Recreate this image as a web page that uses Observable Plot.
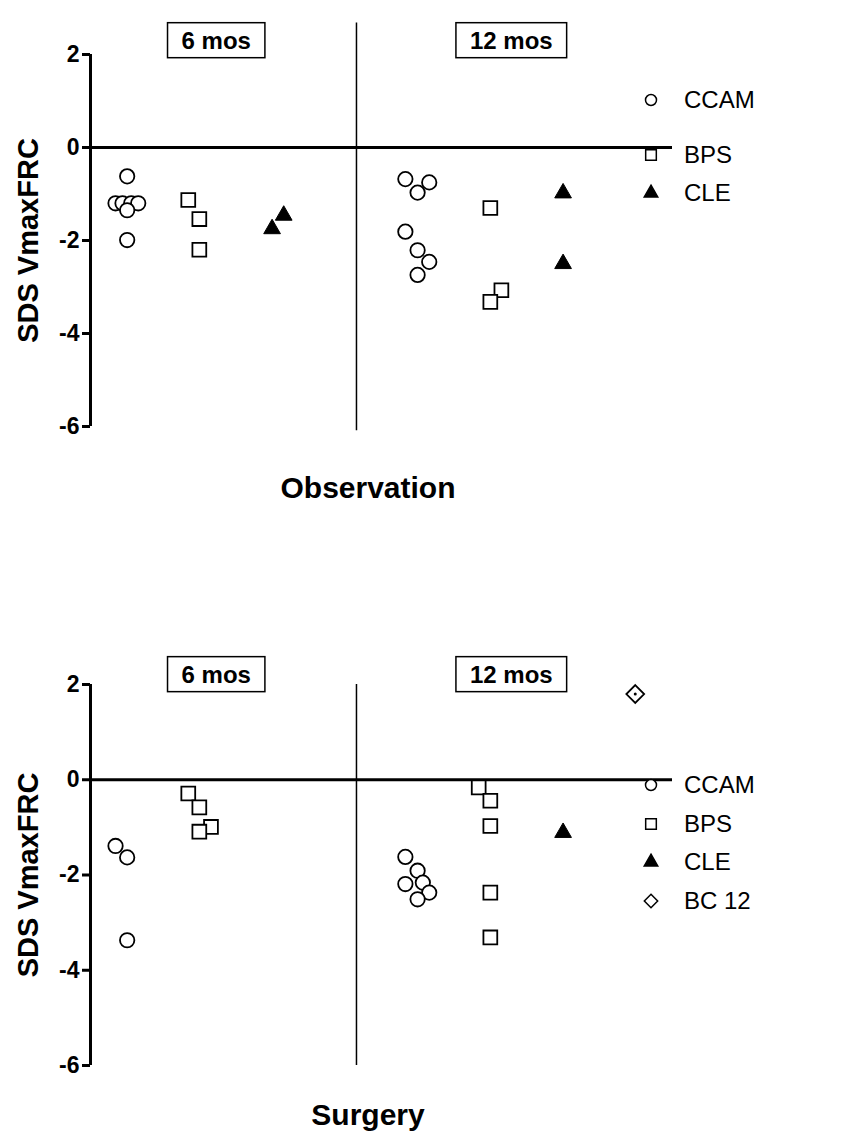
<!DOCTYPE html>
<html><head><meta charset="utf-8">
<script src="https://cdn.jsdelivr.net/npm/d3@7"></script>
<script src="https://cdn.jsdelivr.net/npm/@observablehq/plot@0.6"></script>
<style>
body{margin:0;background:#fff;font-family:"Liberation Sans",Arial,sans-serif;color:#000;}
#wrap{position:relative;width:866px;height:1138px;overflow:hidden;}
.panel{position:absolute;left:0;}
.ptitle{position:absolute;left:218px;width:300px;text-align:center;font-weight:bold;font-size:30px;line-height:34px;}
.legend{position:absolute;left:638px;font-size:24px;}
.legend div{position:absolute;left:0;display:flex;align-items:center;height:38px;white-space:nowrap;}
.legend svg{width:26px;height:26px;margin-right:20px;overflow:visible;}
</style></head>
<body><div id="wrap"></div>
<script>
// ---- data (x = column position, y = SDS VmaxFRC) ----
const series = ["CCAM", "BPS", "CLE", "BC 12"];
const yTicks = [-6, -4, -2, 0, 2];
const periodLabels = ["6 mos", "12 mos"];
const periodLabelX = [2.16, 7.23];

// Observation panel
const obsCCAM_x = [0.63, 0.43, 0.55, 0.70, 0.82, 0.63, 0.63, 5.41, 5.82, 5.62, 5.41, 5.62, 5.82, 5.62];
const obsCCAM_y = [-0.62, -1.20, -1.20, -1.20, -1.20, -1.35, -1.99, -0.68, -0.75, -0.97, -1.81, -2.21, -2.46, -2.74];
const obsBPS_x = [1.68, 1.87, 1.87, 6.87, 7.06, 6.87];
const obsBPS_y = [-1.13, -1.54, -2.20, -1.30, -3.07, -3.32];
const obsCLE_x = [3.32, 3.12, 8.12, 8.12];
const obsCLE_y = [-1.46, -1.75, -0.98, -2.50];

// Surgery panel
const surCCAM_x = [0.43, 0.63, 0.63, 5.41, 5.62, 5.41, 5.71, 5.82, 5.62];
const surCCAM_y = [-1.39, -1.63, -3.37, -1.62, -1.91, -2.19, -2.16, -2.37, -2.51];
const surBPS_x = [1.68, 1.87, 2.07, 1.87, 6.67, 6.87, 6.87, 6.87, 6.87];
const surBPS_y = [-0.29, -0.58, -0.99, -1.09, -0.16, -0.44, -0.97, -2.37, -3.31];
const surCLE_x = [8.12];
const surCLE_y = [-1.11];
const surBC_x = [9.36];
const surBC_y = [1.80];

const symbols = {"CCAM": "circle", "BPS": "square", "CLE": "triangle", "BC 12": "diamond2"};
const sizes = {"CCAM": 7.2, "BPS": 7.8, "CLE": 6.2, "BC 12": 8};

function pts(name, xs, ys) { return xs.map((x, i) => ({series: name, x, y: ys[i]})); }

function panel(data, opts) {
  const marks = [
    Plot.ruleY([0], {x1: 0, x2: 10, strokeWidth: 3}),
    Plot.ruleX([0], {y1: -6, y2: 2, strokeWidth: 3}),
    Plot.ruleX([opts.divX], {y1: opts.divBottom, y2: opts.divTop, strokeWidth: 1.5}),
    Plot.axisY({ticks: yTicks, tickSize: 8, strokeWidth: 3, tickPadding: 3, tickFormat: d => String(d), label: null, fontSize: 23, fontWeight: "bold"}),
    Plot.text(["SDS VmaxFRC"], {frameAnchor: "left", textAnchor: "middle", rotate: -90, dx: -62, fontSize: 29, fontWeight: "bold"}),
    Plot.text(periodLabels, {x: (d, i) => periodLabelX[i], y: opts.labelY, fontSize: 24, fontWeight: "bold", className: "plabel"})
  ];
  for (const s of series) {
    const d = data.filter(p => p.series === s);
    if (!d.length) continue;
    if (s === "CLE") {
      marks.push(Plot.dot(d, {x: "x", y: "y", symbol: symbols[s], r: sizes[s], fill: "black", stroke: "black", strokeWidth: 1}));
    } else {
      marks.push(Plot.dot(d, {x: "x", y: "y", symbol: symbols[s], r: sizes[s], fill: "white", stroke: "black", strokeWidth: 1.8}));
    }
    if (s === "BC 12") marks.push(Plot.dot(d, {x: "x", y: "y", r: 1.5, fill: "black"}));
  }
  return Plot.plot({
    width: 680, height: opts.height,
    marginLeft: 90, marginRight: 8, marginTop: 54, marginBottom: opts.height - opts.bottomPx,
    x: {domain: [0, 10], axis: null},
    y: {domain: [-6, 2], axis: null},
    style: {fontFamily: "'Liberation Sans', Arial, sans-serif", fontSize: "22px", color: "black", overflow: "visible"},
    marks
  });
}

const wrap = document.getElementById("wrap");

function place(chart, top) {
  chart.classList.add("panel");
  chart.style.top = top + "px";
  wrap.appendChild(chart);
  d3.select(chart).selectAll('g[aria-label="y-axis tick label"] text').attr("font-weight", "bold").attr("font-size", 23);
  d3.select(chart).selectAll("g.plabel text").each(function() {
    const b = this.getBBox();
    const padX = 14, padY = 4;
    d3.select(this.parentNode).insert("rect", "text")
      .attr("transform", this.getAttribute("transform"))
      .attr("x", b.x - padX).attr("y", b.y - padY).attr("width", b.width + 2 * padX).attr("height", b.height + 2 * padY)
      .attr("fill", "white").attr("stroke", "black").attr("stroke-width", 1.5);
  });
}

const obs = panel([...pts("CCAM", obsCCAM_x, obsCCAM_y), ...pts("BPS", obsBPS_x, obsBPS_y), ...pts("CLE", obsCLE_x, obsCLE_y)],
  {height: 440, bottomPx: 426, divX: 4.57, divTop: 2.68, divBottom: -6.09, labelY: 2.29});
place(obs, 0);
const sur = panel([...pts("CCAM", surCCAM_x, surCCAM_y), ...pts("BPS", surBPS_x, surBPS_y), ...pts("CLE", surCLE_x, surCLE_y), ...pts("BC 12", surBC_x, surBC_y)],
  {height: 450, bottomPx: 435, divX: 4.57, divTop: 2.0, divBottom: -6.0, labelY: 2.2});
place(sur, 630);

function title(text, top) {
  const t = document.createElement("div");
  t.className = "ptitle"; t.style.top = top + "px"; t.textContent = text;
  wrap.appendChild(t);
}
title("Observation", 471);
title("Surgery", 1098);

const symMap = {"CCAM": d3.symbolCircle, "BPS": d3.symbolSquare, "CLE": d3.symbolTriangle, "BC 12": d3.symbolDiamond2};
const symR = {"CCAM": 5.5, "BPS": 6, "CLE": 5, "BC 12": 6};
function legend(names, centers) {
  const L = document.createElement("div");
  L.className = "legend"; L.style.top = "0px";
  names.forEach((n, i) => {
    const row = document.createElement("div");
    row.style.top = (centers[i] - 19) + "px";
    const s = d3.select(row).append("svg").attr("viewBox", "-13 -13 26 26");
    s.append("path").attr("d", d3.symbol(symMap[n], Math.PI * symR[n] * symR[n])())
      .attr("fill", n === "CLE" ? "black" : "white").attr("stroke", "black").attr("stroke-width", 1.5);
    const t = document.createElement("span"); t.textContent = n;
    row.appendChild(t);
    L.appendChild(row);
  });
  wrap.appendChild(L);
}
legend(["CCAM", "BPS", "CLE"], [100, 155, 193]);
legend(["CCAM", "BPS", "CLE", "BC 12"], [785, 824, 862, 901]);
</script></body></html>
